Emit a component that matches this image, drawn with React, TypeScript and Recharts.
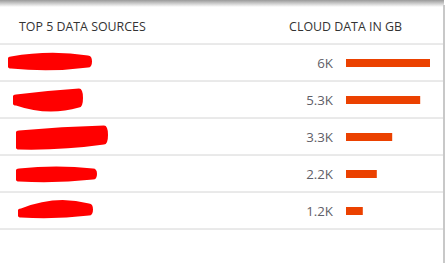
import { BarChart, Bar, XAxis, YAxis, LabelList } from 'recharts'

// top 5 sources, names are blotted out in the picture
const sources = ['Source A', 'Source B', 'Source C', 'Source D', 'Source E']
const cloudGb = [6000, 5300, 3300, 2200, 1200]
const valueLabels = ['6K', '5.3K', '3.3K', '2.2K', '1.2K']

const data = sources.map((name, i) => ({ name, gb: cloudGb[i], label: valueLabels[i] }))

const W = 446
const H = 263
const ROW = 37
const LINE = '#d4d4d4'
const BAR = '#eb4100'

// redaction scribbles, offsets relative to the row centre
const BLOTS = [
  { l: 8, r: 92, lt: -6, mt: -13, rt: -7, rb: 5, mb: 10, lb: 6 },
  { l: 13, r: 83, lt: -5, mt: -9, rt: -11, rb: 8, mb: 17, lb: 6 },
  { l: 16, r: 108, lt: -6, mt: -10, rt: -11, rb: 8, mb: 14, lb: 13 },
  { l: 16, r: 97, lt: -5, mt: -9, rt: -5, rb: 6, mb: 10, lb: 8 },
  { l: 18, r: 93, lt: -2, mt: -16, rt: -7, rb: 5, mb: 9, lb: 7 },
]

function blotPath(b: any, y: number) {
  const m = (b.l + b.r) / 2
  return [
    `M${b.l},${y + b.lt + 2}`,
    `Q${b.l},${y + b.lt} ${b.l + 3},${y + b.lt}`,
    `Q${m},${y + b.mt} ${b.r - 4},${y + b.rt}`,
    `Q${b.r},${y + b.rt} ${b.r},${y + (b.rt + b.rb) / 2}`,
    `Q${b.r},${y + b.rb} ${b.r - 4},${y + b.rb}`,
    `Q${m},${y + b.mb} ${b.l + 3},${y + b.lb}`,
    `Q${b.l},${y + b.lb} ${b.l},${y + b.lb - 2}`,
    'Z',
  ].join(' ')
}

function RowTick(props: any) {
  const { y, index } = props
  const b = BLOTS[index] || BLOTS[0]
  return (
    <g>
      {index === 0 && <line x1={0} x2={443} y1={y - ROW / 2} y2={y - ROW / 2} stroke={LINE} />}
      <line x1={0} x2={443} y1={y + ROW / 2} y2={y + ROW / 2} stroke={LINE} />
      <path d={blotPath(b, y)} fill="#ff0000" />
    </g>
  )
}

export default function App() {
  return (
    <div style={{ position: 'absolute', left: 0, top: 0, width: W, height: H, background: '#fff' }}>
      <BarChart
        width={W}
        height={H}
        data={data}
        layout="vertical"
        margin={{ top: 44, right: 16, bottom: 34, left: 0 }}
        barCategoryGap={0}
      >
        <XAxis type="number" domain={[0, 6000]} hide />
        <YAxis
          type="category"
          dataKey="name"
          width={346}
          axisLine={false}
          tickLine={false}
          tick={<RowTick />}
        />
        <Bar dataKey="gb" fill={BAR} barSize={8} isAnimationActive={false}>
          <LabelList
            dataKey="label"
            position="left"
            offset={13}
            fill="#5f6068"
            fontSize={13.3}
            fontFamily="'Open Sans', sans-serif"
          />
        </Bar>
      </BarChart>
      <svg width={W} height={H} style={{ position: 'absolute', left: 0, top: 0, pointerEvents: 'none' }}>
        <defs>
          <linearGradient id="shade" x1="0" y1="0" x2="0" y2="1">
            <stop offset="0" stopColor="#9a9a9a" />
            <stop offset="1" stopColor="#ffffff" />
          </linearGradient>
        </defs>
        <rect x={0} y={0} width={444} height={7} fill="url(#shade)" />
        <rect x={443} y={5} width={2} height={H - 5} fill="#c8c8c8" />
        <g fontFamily="'Open Sans', sans-serif" fontSize={12.4} fill="#333">
          <text x={19} y={31}>TOP 5 DATA SOURCES</text>
          <text x={402} y={31} textAnchor="end">CLOUD DATA IN GB</text>
        </g>
      </svg>
    </div>
  )
}
